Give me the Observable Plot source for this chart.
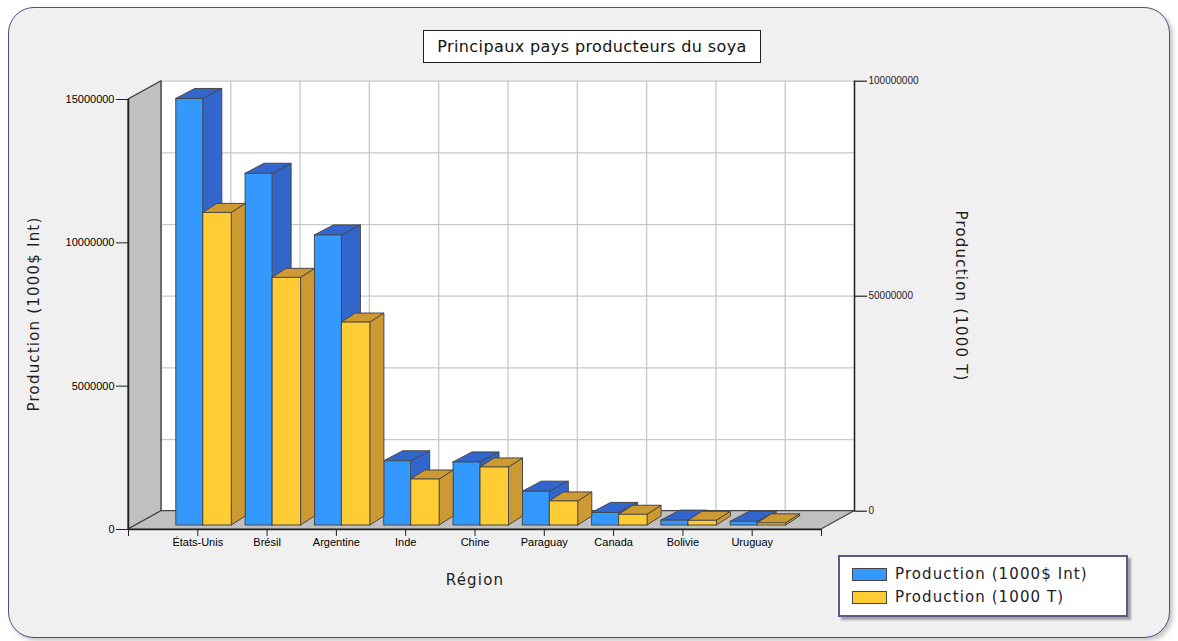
<!DOCTYPE html>
<html>
<head>
<meta charset="utf-8">
<script src="https://cdn.jsdelivr.net/npm/d3@7"></script>
<script src="https://cdn.jsdelivr.net/npm/@observablehq/plot@0.6"></script>
<style>
  body { margin: 0; background: #ffffff; }
  #wrap { position: relative; width: 1178px; height: 641px; overflow: hidden; font-family: "DejaVu Sans", Verdana, sans-serif; }
  #frame { position: absolute; left: 8px; top: 7px; width: 1162px; height: 631px; box-sizing: border-box;
           border: 1.5px solid #4c5080; border-radius: 26px; background: #f0f0f0;
           box-shadow: 3px 3px 4px rgba(0,0,0,0.22); }
  .layer { position: absolute; left: 0; top: 0; }
  .lbl { position: absolute; white-space: nowrap; font-size: 15px; letter-spacing: 1.2px; color: #1e1e1e; }
  #title { position: absolute; left: 423px; top: 30px; width: 338px; height: 33px; box-sizing: border-box;
           border: 1px solid #202020; background: #fff; font-size: 16px; letter-spacing: 0.4px;
           line-height: 31px; text-align: center; color: #111; white-space: nowrap; }
  #legend { position: absolute; left: 838px; top: 555px; width: 290px; height: 62px; box-sizing: border-box;
            border: 2px solid #5a5a8c; background: #fff; box-shadow: 3px 3px 2px #a0a0a0; }
  .sw { position: absolute; width: 35px; height: 13px; box-sizing: border-box; border: 1.5px solid #454545; }
  .lt { position: absolute; white-space: nowrap; font-size: 15px; letter-spacing: 1.1px; color: #1e1a2a; line-height: 18px; }
  svg text { font-family: "Liberation Sans", Arial, sans-serif; }
</style>
</head>
<body>
<div id="wrap">
  <div id="frame"></div>
  <div id="plotA" class="layer"></div>
  <div id="plotB" class="layer"></div>
  <div id="title">Principaux pays producteurs du soya</div>
  <div class="lbl" id="ylab" style="left:34px;top:314px;transform:translate(-50%,-50%) rotate(-90deg);">Production (1000$ Int)</div>
  <div class="lbl" id="y2lab" style="left:961px;top:296px;transform:translate(-50%,-50%) rotate(90deg);">Production (1000 T)</div>
  <div class="lbl" id="xlab" style="left:475px;top:580px;transform:translate(-50%,-50%);">Région</div>
  <div id="legend"></div>
</div>
<script>
// ---- data ----
const categories = ["États-Unis", "Brésil", "Argentine", "Inde", "Chine", "Paraguay", "Canada", "Bolivie", "Uruguay"];
const valeur = [14880000, 12270000, 10120000, 2240000, 2200000, 1180000, 440000, 170000, 130000];      // Production (1000$ Int)
const production = [72700000, 57600000, 47200000, 10700000, 13500000, 5600000, 2500000, 1100000, 500000]; // Production (1000 T)
const leftTicks = [0, 5000000, 10000000, 15000000];
const rightTicks = [0, 50000000, 100000000];
const seriesNames = ["Production (1000$ Int)", "Production (1000 T)"];
const xLabel = "Région";

// ---- layout ----
const W = 1178, H = 641, mL = 128, mR = 357, mT = 99, mB = 112;
const plotW = W - mL - mR, plotH = H - mT - mB;
const xu = p => p * 10 / plotW;                 // px -> x units
const yA = p => p * 15000000 / plotH;           // px -> left y units
const yB = p => p * 100000000 / plotH;          // px -> right y units
const DX = 33, DY = -18.3;                      // depth of the box (px)
const outline = "#474747";
const grid = "#c8c8c8";
const colors = {blue: "#3399ff", blueDark: "#3366cc", yellow: "#ffcc33", yellowDark: "#cc9933"};

function barMarks(values, yu, x1px, x2px, depX, depY, front, dark) {
  const rows = categories.map((c, i) => ({c, pos: i + 1, v: values[i]}));
  const side = rows.flatMap(d => [
    {k: d.c, x: d.pos + xu(x2px), y1: 0, y2: d.v},
    {k: d.c, x: d.pos + xu(x2px + depX), y1: yu(depY), y2: d.v + yu(depY)}
  ]);
  const top = rows.flatMap(d => [
    {k: d.c, y: d.v, x1: d.pos + xu(x1px), x2: d.pos + xu(x2px)},
    {k: d.c, y: d.v + yu(depY), x1: d.pos + xu(x1px + depX), x2: d.pos + xu(x2px + depX)}
  ]);
  return [
    Plot.areaY(side, {x: "x", y1: "y1", y2: "y2", z: "k", fill: dark, stroke: outline, strokeWidth: 1, dy: -4}),
    Plot.areaX(top, {y: "y", x1: "x1", x2: "x2", z: "k", fill: dark, stroke: outline, strokeWidth: 1, dy: -4}),
    Plot.rect(rows, {x1: d => d.pos + xu(x1px), x2: d => d.pos + xu(x2px), y1: d => 0, y2: "v",
                     fill: front, stroke: outline, strokeWidth: 1, dy: -4})
  ];
}

const common = {
  width: W, height: H, marginLeft: mL, marginRight: mR, marginTop: mT, marginBottom: mB,
  x: {type: "linear", domain: [0, 10], axis: null},
  style: {background: "transparent", overflow: "visible"}
};

const plotA = Plot.plot({
  ...common,
  y: {domain: [0, 15000000], axis: null},
  marks: [
    // back wall
    Plot.rect([0], {x1: d => 0, x2: d => 10, y1: d => 0, y2: d => 15000000, dx: DX, dy: DY, fill: "#ffffff"}),
    Plot.ruleY(d3.range(0, 15000001, 2500000), {x1: d => 0, x2: d => 10, dx: DX, dy: DY, stroke: grid, strokeWidth: 1.3}),
    Plot.ruleX(d3.range(0, 11), {y1: d => 0, y2: d => 15000000, dx: DX, dy: DY, stroke: grid, strokeWidth: 1.3}),
    // left wall
    Plot.areaY([{x: 0, y1: 0, y2: 15000000}, {x: xu(DX), y1: yA(-DY), y2: 15000000 + yA(-DY)}],
              {x: "x", y1: "y1", y2: "y2", fill: "#c0c0c0", stroke: "#333", strokeWidth: 1.2}),
    // floor
    Plot.areaX([{y: 0, x1: 0, x2: 10}, {y: yA(-DY), x1: xu(DX), x2: 10 + xu(DX)}],
               {y: "y", x1: "x1", x2: "x2", fill: "#c0c0c0", stroke: "#444", strokeWidth: 1.2}),
    // axes
    Plot.ruleX([0], {y1: d => 0, y2: d => 15000000, stroke: "#222", strokeWidth: 1.5}),
    Plot.ruleY([0], {x1: d => 0, x2: d => 10, stroke: "#222", strokeWidth: 1.5}),
    Plot.axisY(leftTicks, {anchor: "left", tickSize: 12, tickPadding: 2, tickFormat: d => String(d),
                           label: null, fontSize: 11, stroke: "#222"}),
    Plot.axisX(d3.range(0, 11), {anchor: "bottom", tickSize: 7, tickPadding: 2,
                           tickFormat: i => categories[i - 1] ?? "", label: null, fontSize: 11, stroke: "#222"}),
    // blue bars
    ...barMarks(valeur, yA, -21.5, 5.5, 19, 10, colors.blue, colors.blueDark)
  ]
});

const plotB = Plot.plot({
  ...common,
  y: {domain: [0, 100000000], axis: null},
  marks: [
    ...barMarks(production, yB, 5.5, 34, 14, 9, colors.yellow, colors.yellowDark),
    Plot.ruleX([10], {y1: d => 0, y2: d => 100000000, dx: DX, dy: DY, stroke: "#222", strokeWidth: 1.5}),
    Plot.ruleY(rightTicks, {x1: d => 10, x2: d => 10 + xu(13), dx: DX, dy: DY, stroke: "#222", strokeWidth: 1.2}),
    Plot.text(rightTicks, {x: d => 10, y: d => d, text: d => String(d), dx: DX + 14, dy: DY,
                           textAnchor: "start", fontSize: 10, fill: "#222"})
  ]
});

document.getElementById("plotA").appendChild(plotA);
document.getElementById("plotB").appendChild(plotB);

// legend
const legend = document.getElementById("legend");
[[colors.blue, seriesNames[0]], [colors.yellow, seriesNames[1]]].forEach(([c, name], i) => {
  const sw = document.createElement("div");
  sw.className = "sw";
  sw.style.left = "12px"; sw.style.top = (11 + i * 22.5) + "px"; sw.style.background = c;
  const t = document.createElement("div");
  t.className = "lt"; t.textContent = name;
  t.style.left = "55px"; t.style.top = (8 + i * 22.5) + "px";
  legend.appendChild(sw); legend.appendChild(t);
});
document.getElementById("xlab").textContent = xLabel;
</script>
</body>
</html>
